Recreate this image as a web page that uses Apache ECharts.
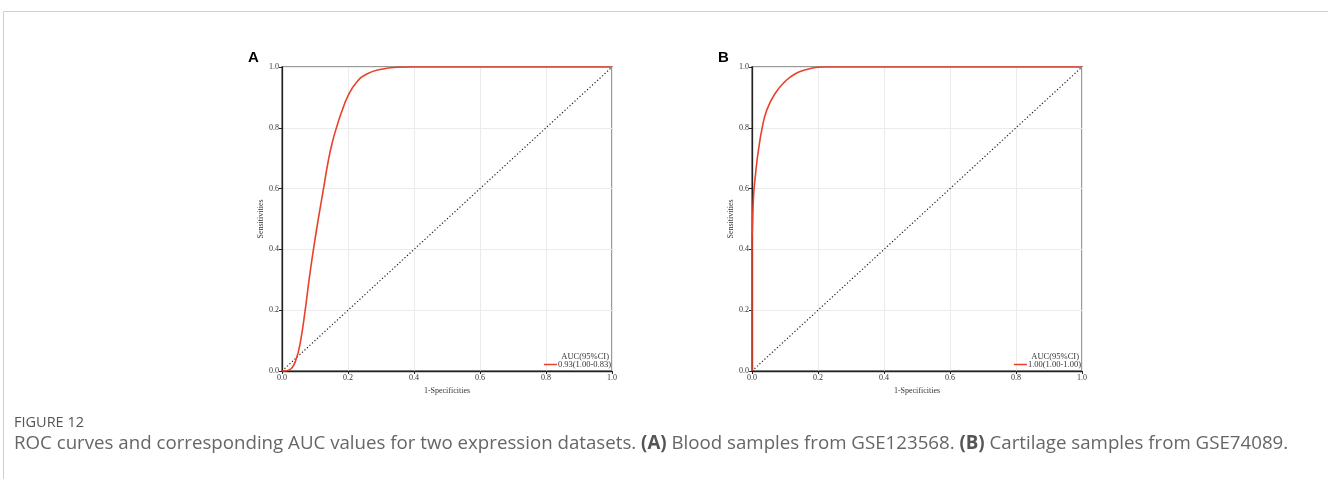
<!DOCTYPE html>
<html>
<head>
<meta charset="utf-8">
<script src="https://cdn.jsdelivr.net/npm/echarts@6/dist/echarts.min.js"></script>
<style>
html,body{margin:0;padding:0;background:#fff;}
#main{width:1328px;height:479px;}
</style>
</head>
<body>
<div id="main"></div>
<script>
// ---- data ----
const tickValues = [0, 0.2, 0.4, 0.6, 0.8, 1.0];
const rocA = [[0,0],[0.014,0.001],[0.029,0.009],[0.042,0.036],[0.055,0.091],[0.07,0.198],[0.082,0.3],[0.095,0.398],[0.11,0.5],[0.125,0.595],[0.14,0.69],[0.152,0.75],[0.165,0.8],[0.18,0.85],[0.2,0.905],[0.226,0.95],[0.257,0.977],[0.297,0.992],[0.348,0.999],[0.4,1],[1,1]];
const rocB = [[0,0],[0,0.4],[0.002,0.5],[0.005,0.58],[0.01,0.64],[0.015,0.69],[0.02,0.73],[0.03,0.795],[0.045,0.859],[0.07,0.913],[0.1,0.952],[0.13,0.977],[0.166,0.992],[0.2,0.999],[0.22,1],[1,1]];
const diagonal = [[0,0],[1,1]];
const aucLabels = ['0.93(1.00-0.83)', '1.00(1.00-1.00)'];
const legendTitle = 'AUC(95%CI)';
const panelLabels = ['A', 'B'];
const xTitle = '1-Specificities';
const yTitle = 'Sensitivities';

const chart = echarts.init(document.getElementById('main'));
const serif = 'Liberation Serif, Times New Roman, serif';
const red = '#e8412c';
const grids = [
  {left: 282, top: 67, width: 330, height: 304},
  {left: 752, top: 67, width: 330, height: 304}
];
function xAx(i){
  return {gridIndex:i, type:'value', min:0, max:1, interval:0.2,
    name:xTitle, nameLocation:'middle', nameGap:15,
    nameTextStyle:{fontFamily:serif, fontSize:8, color:'#333'},
    axisLine:{show:true, onZero:false, lineStyle:{color:'#222', width:1.3}},
    axisTick:{show:true, length:3, lineStyle:{color:'#222'}},
    axisLabel:{fontFamily:serif, fontSize:8, color:'#333', margin:3, formatter:v=>v.toFixed(1)},
    splitLine:{show:true, lineStyle:{color:'#ebebeb', width:1}}};
}
function yAx(i){
  return {gridIndex:i, type:'value', min:0, max:1, interval:0.2,
    name:yTitle, nameLocation:'middle', nameGap:17, nameRotate:90,
    nameTextStyle:{fontFamily:serif, fontSize:8, color:'#333'},
    axisLine:{show:true, onZero:false, lineStyle:{color:'#222', width:1.3}},
    axisTick:{show:true, length:3, lineStyle:{color:'#222'}},
    axisLabel:{fontFamily:serif, fontSize:8, color:'#333', margin:3, formatter:v=>v.toFixed(1)},
    splitLine:{show:true, lineStyle:{color:'#ebebeb', width:1}}};
}
function rocSeries(i, data){
  return {type:'line', name:aucLabels[i], xAxisIndex:i, yAxisIndex:i, data:data,
    smooth:0.5, showSymbol:false, symbol:'none', clip:false, z:5,
    lineStyle:{color:red, width:1.6}, itemStyle:{color:red}};
}
function diagSeries(i){
  return {type:'line', xAxisIndex:i, yAxisIndex:i, data:diagonal, showSymbol:false, symbol:'none', z:3,
    lineStyle:{color:'#222', width:1.2, type:[1.2,2.2]}, silent:true};
}
const legends = grids.map((g,i)=>({
  data:[{name:aucLabels[i], icon:'rect'}],
  orient:'vertical', right:1328-(g.left+g.width)+1, top:g.top+g.height-11,
  itemWidth:13, itemHeight:1.5, itemGap:0, padding:0,
  textStyle:{fontFamily:serif, fontSize:8.5, color:'#333', padding:[0,0,0,-4]}
}));
const graphics = [
  {type:'polyline', shape:{points:[[3.5,479],[3.5,11.5],[1328,11.5]]}, style:{stroke:'#cfcfcf', lineWidth:1, fill:null}},
  {type:'text', left:14, top:415, style:{text:'FIGURE 12', font:'14.5px "Open Sans"', fill:'#555'}},
  {type:'text', left:14, top:434, style:{
    text:'ROC curves and corresponding AUC values for two expression datasets. {b|(A)} Blood samples from GSE123568. {b|(B)} Cartilage samples from GSE74089.',
    font:'18.7px "Open Sans"', fill:'#666',
    rich:{b:{fontWeight:'bold', fontFamily:'Open Sans', fontSize:18.7, fill:'#555'}}}}
];
grids.forEach((g,i)=>{
  graphics.push({type:'text', x:g.left-34, y:g.top-17, style:{text:panelLabels[i], font:'bold 15px "Liberation Sans"', fill:'#000'}});
  graphics.push({type:'text', x:g.left+g.width-3, y:g.top+g.height-19, style:{text:legendTitle, font:'8.5px '+serif, fill:'#333', textAlign:'right'}});
});
chart.setOption({
  animation:false,
  grid: grids.map(g=>Object.assign({show:true, borderColor:'#999', borderWidth:2, backgroundColor:'transparent'}, g)),
  xAxis:[xAx(0), xAx(1)],
  yAxis:[yAx(0), yAx(1)],
  legend: legends,
  series:[diagSeries(0), diagSeries(1), rocSeries(0, rocA), rocSeries(1, rocB)],
  graphic: graphics
});
</script>
</body>
</html>
